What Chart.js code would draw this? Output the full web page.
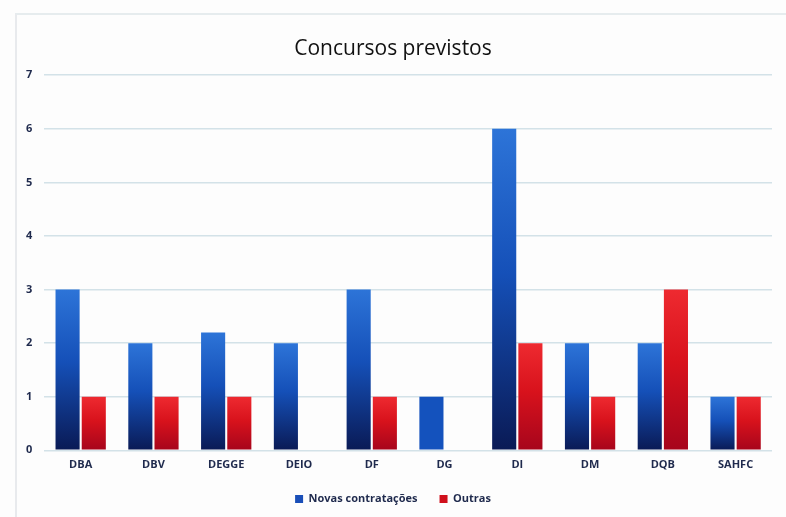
<!DOCTYPE html>
<html>
<head>
<meta charset="utf-8">
<script src="https://cdn.jsdelivr.net/npm/chart.js@4.4.1/dist/chart.umd.min.js"></script>
<style>
    body { margin: 0; background: #fdfdfd; }
    #wrap { position: relative; width: 786px; height: 517px; }
    #frame {
        position: absolute; left: 15px; top: 13px; right: 0; bottom: 0;
        border-left: 2px solid #e8eaed; border-top: 2px solid #e6ecee;
    }
    canvas { position: absolute; left: 0; top: 0; }
</style>
</head>
<body>
<div id="wrap">
    <div id="frame"></div>
    <canvas id="chart" width="786" height="517"></canvas>
</div>
<script>
// chart data
const categories = ['DBA', 'DBV', 'DEGGE', 'DEIO', 'DF', 'DG', 'DI', 'DM', 'DQB', 'SAHFC'];
const novasContratacoes = [3, 2, 2.2, 2, 3, 1, 6, 2, 2, 1];
const outras = [1, 1, 1, 0, 1, 0, 2, 1, 3, 1];
const yTicks = [0, 1, 2, 3, 4, 5, 6, 7];

const tickColor = '#1f2a4d';

// vertical gradient per bar, from its top to the baseline
function barGradient(context, light, mid, dark) {
    const chart = context.chart;
    if (!chart.chartArea || context.type !== 'data') return dark;
    const yScale = chart.scales.y;
    const top = yScale.getPixelForValue(context.raw);
    const bottom = yScale.getPixelForValue(0);
    if (bottom - top < 1) return dark;
    const g = chart.ctx.createLinearGradient(0, top, 0, bottom);
    g.addColorStop(0, light);
    g.addColorStop(0.45, mid);
    g.addColorStop(1, dark);
    return g;
}

document.addEventListener('DOMContentLoaded', function() {
    new Chart(document.getElementById('chart'), {
        type: 'bar',
        data: {
            labels: categories,
            datasets: [{
                label: 'Novas contratações',
                data: novasContratacoes,
                backgroundColor: function(context) {
                    // the DG bar in the scan is a flat blue
                    if (context.dataIndex === 5) return '#1452bd';
                    return barGradient(context, '#2d74d8', '#1550b8', '#0a1a55');
                },
                categoryPercentage: 0.72,
                barPercentage: 0.92
            }, {
                label: 'Outras',
                data: outras,
                backgroundColor: function(context) {
                    return barGradient(context, '#ee2a30', '#d8121c', '#a6051c');
                },
                categoryPercentage: 0.72,
                barPercentage: 0.92
            }]
        },
        options: {
            responsive: false,
            animation: false,
            layout: {
                padding: { left: 14, right: 14, top: 36, bottom: 2.5 }
            },
            scales: {
                x: {
                    grid: { display: false },
                    border: { display: false },
                    ticks: {
                        color: tickColor,
                        font: { family: 'Open Sans', size: 11, weight: 'bold' },
                        padding: 0
                    }
                },
                y: {
                    min: 0,
                    max: 7,
                    afterBuildTicks: function(axis) {
                        axis.ticks = yTicks.map(v => ({ value: v }));
                    },
                    grid: {
                        color: '#d3e2e8',
                        lineWidth: 1.5,
                        drawTicks: false
                    },
                    border: { display: false },
                    ticks: {
                        color: tickColor,
                        font: { family: 'Open Sans', size: 11, weight: 'bold' },
                        padding: 12
                    }
                }
            },
            plugins: {
                title: {
                    display: true,
                    text: 'Concursos previstos',
                    color: '#111',
                    font: { family: 'Open Sans', size: 21, weight: 'normal' },
                    padding: { top: 0, bottom: 14 }
                },
                legend: {
                    position: 'bottom',
                    labels: {
                        color: tickColor,
                        font: { family: 'Open Sans', size: 11, weight: 'bold' },
                        boxWidth: 8,
                        boxHeight: 8,
                        padding: 22,
                        generateLabels: function(chart) {
                            const fills = ['#1a4fb8', '#d0101c'];
                            return chart.data.datasets.map((ds, i) => ({
                                text: ds.label,
                                fillStyle: fills[i],
                                strokeStyle: fills[i],
                                lineWidth: 0,
                                fontColor: tickColor,
                                datasetIndex: i,
                                hidden: false
                            }));
                        }
                    }
                },
                tooltip: { enabled: false }
            }
        }
    });
});
</script>
</body>
</html>
